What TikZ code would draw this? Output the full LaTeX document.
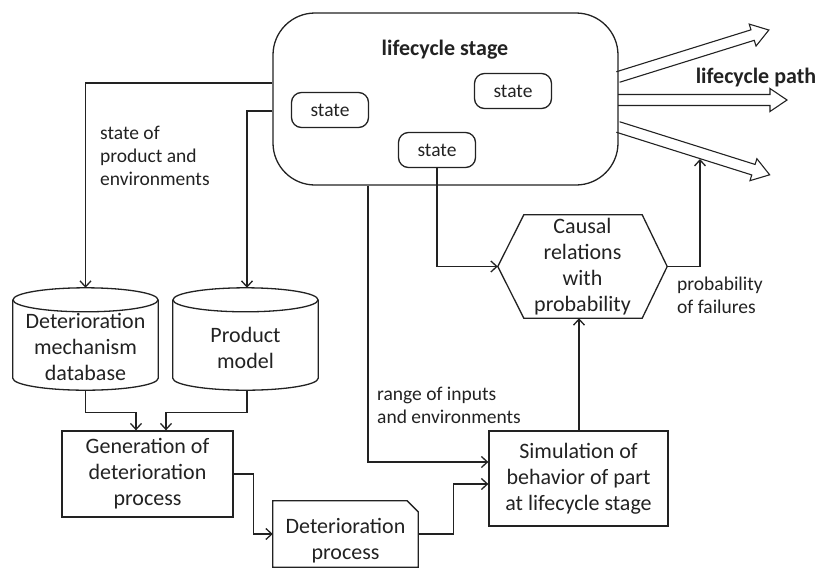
\documentclass[tikz,border=0pt]{standalone}
\usepackage{fontspec}
\setmainfont{Carlito}
\usetikzlibrary{arrows.meta,calc}
\definecolor{lc}{HTML}{222222}
\definecolor{tc}{HTML}{222222}
\newcommand\bigf{\fontsize{22}{26}\selectfont}
\newcommand\smlf{\fontsize{19.5}{23}\selectfont}
\newcommand\drawcyl[1]{%
  \draw[ln] ($(#1.north west)+(0,12)$) -- ($(#1.south west)+(0,-12)$)
    .. controls ($(#1.south west)+(0,-5.4)$) and ($(#1.south)+(-40,0)$) .. (#1.south)
    .. controls ($(#1.south)+(40,0)$) and ($(#1.south east)+(0,-5.4)$) .. ($(#1.south east)+(0,-12)$)
    -- ($(#1.north east)+(0,12)$);
  \draw[ln] ($(#1.north)+(0,12)$) ellipse [x radius=72.5pt, y radius=12pt];}
\newcommand\hollowarrow[4]{%
  \begin{scope}[shift={(#1,#2)},rotate=#3]
    \draw[ln, line width=1.1pt] (0,5.5) -- ({#4-17},5.5) -- ({#4-17},11.5) -- (#4,0)
      -- ({#4-17},-11.5) -- ({#4-17},-5.5) -- (0,-5.5);
  \end{scope}}
\begin{document}
\begin{tikzpicture}[x=1pt,y=-1pt,
  ln/.style={draw=lc, line width=1.3pt},
  arr/.style={ln, -{Straight Barb[length=6pt,width=11pt,line width=1.3pt]}},
  box/.style={draw=lc, line width=1.3pt, rectangle, inner sep=0pt, align=center, font=\bigf, text=tc},
  body/.style={rectangle, inner sep=0pt},
  txt/.style={inner sep=0pt, align=center, font=\bigf, text=tc},
  lbl/.style={inner sep=0pt, align=left, font=\smlf, text=tc, anchor=west},
  statebox/.style={draw=lc, line width=1.3pt, rectangle, rounded corners=10pt, minimum width=77pt, minimum height=35pt, inner sep=0pt, font=\smlf, text=tc},
  boldlbl/.style={inner sep=0pt, font=\bigf\bfseries, text=tc}
]
\useasboundingbox (0,0) rectangle (819,568);

% lifecycle stage
\node[draw=lc, line width=1.3pt, rectangle, rounded corners=42pt, minimum width=345pt, minimum height=172pt] (stage) at (445.5,99) {};
\node[boldlbl] (stl) at (445,50) {lifecycle stage};
\node[statebox] (st1) at (330,110) {state};
\node[statebox] (st2) at (513,91) {state};
\node[statebox] (st3) at (437,150) {state};

% lifecycle path arrows
\hollowarrow{618}{77}{17.3}{158}
\hollowarrow{618}{100}{0}{169}
\hollowarrow{618}{127}{-17.5}{159}
\coordinate (pa) at (700,159);
\node[boldlbl] (lp) at (756,78) {lifecycle path};

% cylinders
\node[body, minimum width=145pt, minimum height=102pt] (db1) at (85.5,339) {};
\drawcyl{db1}
\node[txt] (db1t) at (85.5,347) {Deterioration\\mechanism\\database};
\node[body, minimum width=145pt, minimum height=102pt] (db2) at (245.5,339) {};
\drawcyl{db2}
\node[txt] (db2t) at (245.5,348) {Product\\model};

% generation
\node[box, minimum width=171pt, minimum height=86pt] (gen) at (147.5,474) {Generation of\\deterioration\\process};

% deterioration process (cut corner)
\node[body, minimum width=145pt, minimum height=66pt] (det) at (345.5,534) {};
\draw[ln] (det.south west) -- (det.north west) -- ([xshift=-11pt]det.north east)
  -- ([yshift=-11pt]det.north east) -- (det.south east) -- cycle;
\node[txt] (dett) at (345.5,541) {Deterioration\\process};

% simulation
\node[box, minimum width=179pt, minimum height=95pt] (sim) at (578.5,478.5) {Simulation of\\behavior of part\\at lifecycle stage};

% hexagon
\node[body, minimum width=169pt, minimum height=103pt, align=center, font=\bigf, text=tc] (hex) at (582.5,266.5) {Causal\\relations\\with\\probability};
\draw[ln] (hex.west) -- ([xshift=26pt]hex.north west) -- ([xshift=-25pt]hex.north east)
  -- (hex.east) -- ([xshift=-25pt]hex.south east) -- ([xshift=26pt]hex.south west) -- cycle;

% labels
\node[lbl] (l1) at (100,156) {state of\\product and\\environments};
\node[lbl] (l2) at (377,405) {range of inputs\\and environments};
\node[lbl] (l3) at (677,295) {probability\\of failures};

% connectors
\draw[arr] ([yshift=16pt]stage.west) -| (db1.north);
\draw[arr] ([yshift=-12pt]stage.west) -| ([xshift=1.5pt]db2.north);
\draw[arr] (db1.south) -- ++(0,22) -| ([xshift=-11.5pt]gen.north);
\draw[arr] ([xshift=1.5pt]db2.south) -- ++(0,22) -| ([xshift=18.5pt]gen.north);
\draw[arr] (gen.east) -- ++(20,0) |- (det.west);
\draw[arr] (det.east) -- ++(35,0) |- ([yshift=-5.5pt]sim.west);
\draw[arr] ([xshift=-77.5pt]stage.south) |- ([yshift=16.5pt]sim.west);
\draw[arr] (st3.south) |- (hex.west);
\draw[arr] ([xshift=0.5pt]sim.north) -- ([xshift=0.5pt]sim.north |- hex.south);
\draw[arr] (hex.east) -| (pa);
\end{tikzpicture}
\end{document}
